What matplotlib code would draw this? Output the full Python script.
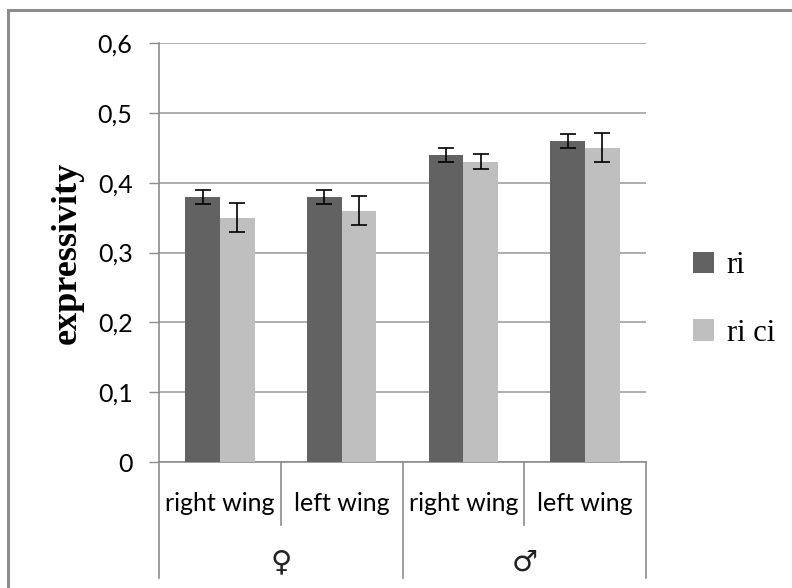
import numpy as np
import matplotlib
matplotlib.use("Agg")
import matplotlib.pyplot as plt
from matplotlib.patches import Rectangle
from matplotlib.transforms import blended_transform_factory

# values
categories = ["right wing", "left wing", "right wing", "left wing"]
groups = ["\u2640", "\u2642"]
ri = [0.38, 0.38, 0.44, 0.46]
ri_err = [0.01, 0.01, 0.01, 0.01]
rici = [0.35, 0.36, 0.43, 0.45]
rici_err = [0.021, 0.021, 0.011, 0.021]
series_names = ["ri", "ri ci"]
yticks = [0, 0.1, 0.2, 0.3, 0.4, 0.5, 0.6]
ytick_labels = ["0", "0,1", "0,2", "0,3", "0,4", "0,5", "0,6"]

dark = "#626262"
light = "#bfbfbf"
axis_gray = "#8c8c8c"

fig = plt.figure(figsize=(7.92, 5.88), dpi=100)
ax = fig.add_axes([159 / 792, 1 - 462 / 588, 487 / 792, 419 / 588])

x = np.arange(len(categories))
w = 0.285
ax.bar(x - w / 2, ri, w, color=dark, label=series_names[0], zorder=3)
ax.bar(x + w / 2, rici, w, color=light, label=series_names[1], zorder=3)
ax.errorbar(x - w / 2, ri, yerr=ri_err, fmt="none", ecolor="black",
            elinewidth=1.2, capsize=6, capthick=1.2, zorder=4)
ax.errorbar(x + w / 2, rici, yerr=rici_err, fmt="none", ecolor="black",
            elinewidth=1.2, capsize=6, capthick=1.2, zorder=4)

ax.set_xlim(-0.5, len(categories) - 0.5)
ax.set_ylim(0, 0.6)
ax.set_yticks(yticks)
ax.set_yticklabels(ytick_labels, fontfamily="Lato", fontsize=18)
ax.tick_params(axis="y", direction="out", length=7, color=axis_gray, width=1, pad=12)
ax.set_xticks([])
ax.yaxis.grid(True, color="#a0a0a0", linewidth=1.2)
ax.set_axisbelow(True)
for s in ["top", "right"]:
    ax.spines[s].set_visible(False)
for s in ["left", "bottom"]:
    ax.spines[s].set_color(axis_gray)
    ax.spines[s].set_linewidth(1.2)

ax.set_ylabel("expressivity", fontfamily="Liberation Serif", fontweight="bold",
              fontsize=26, labelpad=10)

# category / group labels and separators below the axis
tr = blended_transform_factory(ax.transData, ax.transAxes)
for i, lab in enumerate(categories):
    ax.text(i, -0.098, lab, transform=tr, ha="center", va="center",
            fontfamily="Lato", fontsize=18)
for g, lab in enumerate(groups):
    ax.text(2 * g + 0.5, -0.24, lab, transform=tr, ha="center", va="center",
            fontfamily=["DejaVu Sans"], fontsize=21, color="#222222")
for xs in [0.5, 2.5]:
    ax.plot([xs, xs], [0, -0.15], transform=tr, color=axis_gray, lw=1.2, clip_on=False)
for xs in [-0.5, 1.5, 3.5]:
    ax.plot([xs, xs], [0, -0.277], transform=tr, color=axis_gray, lw=1.2, clip_on=False)

leg = ax.legend(loc="center left", bbox_to_anchor=(1.0965, 0.388), frameon=False,
                borderpad=0, borderaxespad=0,
                handlelength=0.7, handleheight=0.7, handletextpad=0.4,
                labelspacing=1.25, prop={"family": "Liberation Serif", "size": 22})

# outer chart frame (cut off on the right and bottom)
fig.add_artist(Rectangle((8 / 792, -0.1), 1.2, 1 - 10 / 588 + 0.1,
                         transform=fig.transFigure, fill=False,
                         edgecolor=axis_gray, linewidth=2.2))

fig.savefig("out.png", dpi=100)
